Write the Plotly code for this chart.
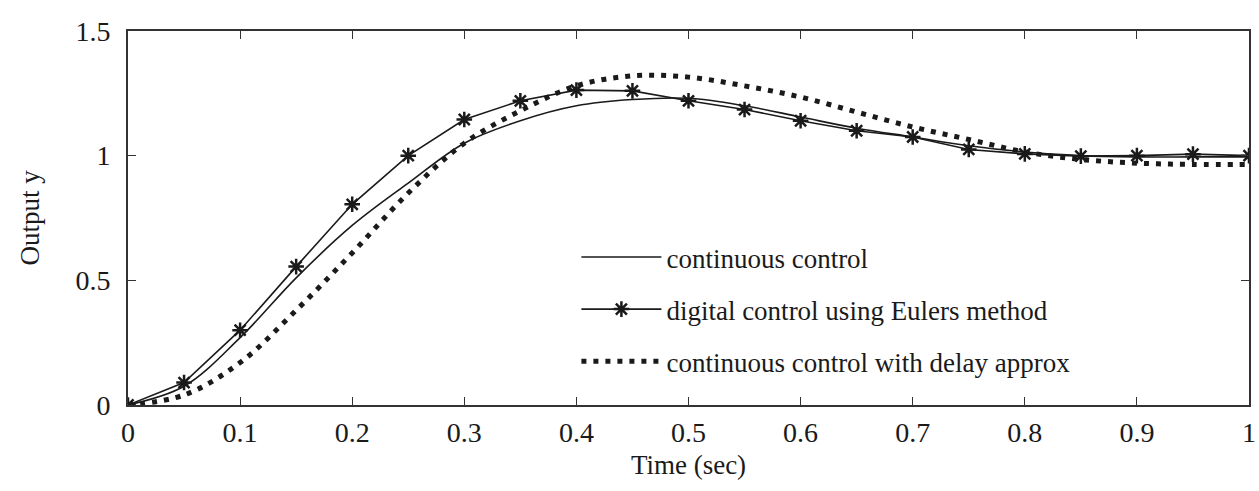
import plotly.graph_objects as go

# Time samples (sec)
time = [0.0, 0.05, 0.10, 0.15, 0.20, 0.25, 0.30, 0.35, 0.40, 0.45, 0.50,
        0.55, 0.60, 0.65, 0.70, 0.75, 0.80, 0.85, 0.90, 0.95, 1.00]

# continuous control
y_continuous = [0.0, 0.075, 0.27, 0.51, 0.72, 0.89, 1.05, 1.14, 1.20, 1.225, 1.23,
                1.20, 1.155, 1.11, 1.075, 1.04, 1.015, 1.0, 0.995, 0.995, 0.995]

# digital control using Eulers method
y_digital = [0.0, 0.09, 0.30, 0.555, 0.805, 1.0, 1.145, 1.22, 1.263, 1.26, 1.22,
             1.185, 1.14, 1.10, 1.075, 1.025, 1.007, 0.998, 1.0, 1.006, 1.0]

# continuous control with delay approx
y_delay = [0.0, 0.04, 0.17, 0.38, 0.61, 0.85, 1.05, 1.18, 1.28, 1.32, 1.315,
           1.28, 1.235, 1.175, 1.115, 1.065, 1.015, 0.985, 0.97, 0.965, 0.965]

x_ticks = [0, 0.1, 0.2, 0.3, 0.4, 0.5, 0.6, 0.7, 0.8, 0.9, 1.0]
x_tick_labels = ["0", "0.1", "0.2", "0.3", "0.4", "0.5", "0.6", "0.7", "0.8", "0.9", "1"]
y_ticks = [0, 0.5, 1.0, 1.5]
y_tick_labels = ["0", "0.5", "1", "1.5"]

FONT = "Liberation Serif"
INK = "#1a1a1a"

fig = go.Figure()
fig.add_trace(go.Scatter(
    x=time, y=y_continuous, mode="lines", name="continuous control",
    line=dict(color=INK, width=1.6, shape="spline"), legendgroup="a"))
fig.add_trace(go.Scatter(
    x=time, y=y_digital, mode="lines+markers",
    name="digital control using Eulers method",
    line=dict(color=INK, width=1.6),
    marker=dict(symbol="asterisk-open", size=13, color=INK,
                line=dict(color=INK, width=2.5)), legendgroup="b"))
fig.add_trace(go.Scatter(
    x=time, y=y_delay, mode="lines",
    name="continuous control with delay approx",
    line=dict(color=INK, width=5, dash="5px,7px", shape="spline"), legendgroup="c"))

fig.update_layout(
    template="none",
    width=1259, height=491,
    margin=dict(l=128, r=10, t=31, b=86, autoexpand=False),
    paper_bgcolor="white", plot_bgcolor="white",
    font=dict(family=FONT, size=27, color=INK),
    showlegend=True,
    legend=dict(x=0.40, y=0.46, xanchor="left", yanchor="top",
                bgcolor="rgba(0,0,0,0)", borderwidth=0,
                font=dict(family=FONT, size=27, color=INK),
                traceorder="grouped", tracegroupgap=14, itemwidth=80),
    xaxis=dict(range=[0, 1], tickvals=x_ticks, ticktext=x_tick_labels,
               showgrid=False, zeroline=False, showline=True, linecolor="#333",
               linewidth=1.6, mirror="ticks", ticks="inside", ticklen=8,
               tickcolor="#333", tickwidth=1.4, automargin=False,
               ticklabeloverflow="allow",
               tickfont=dict(family=FONT, size=28, color=INK),
               ticklabelstandoff=2,
               title=dict(text="Time (sec)", standoff=8,
                          font=dict(family=FONT, size=27, color=INK))),
    yaxis=dict(range=[0, 1.5], tickvals=y_ticks, ticktext=y_tick_labels,
               showgrid=False, zeroline=False, showline=True, linecolor="#333",
               linewidth=1.6, mirror="ticks", ticks="inside", ticklen=8,
               tickcolor="#333", tickwidth=1.4, automargin=False,
               ticklabeloverflow="allow",
               tickfont=dict(family=FONT, size=28, color=INK),
               ticklabelstandoff=10,
               title=dict(text="Output y", standoff=28,
                          font=dict(family=FONT, size=27, color=INK))),
)

fig.write_html("out.html")
